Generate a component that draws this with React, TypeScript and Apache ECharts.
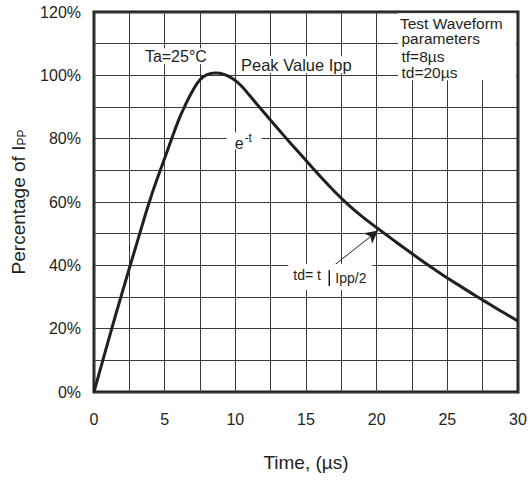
import React, { useEffect, useRef } from "react";
import * as echarts from "echarts";

// Time (µs) and percentage of Ipp
const times = [0, 1, 2, 3, 4, 5, 6, 6.5, 7, 7.5, 8, 8.6, 9.2, 9.8, 10.4, 11, 12, 13, 14, 15, 16, 17, 18, 19, 20, 21, 22, 23, 24, 25, 26, 27, 28, 29, 30];
const percents = [0, 16, 31.5, 46.5, 61.2, 73.8, 86, 91, 95.3, 98.6, 100.2, 100.7, 100.3, 99, 96.8, 93.7, 88.4, 83.2, 78.1, 73.1, 68.1, 63.4, 59.1, 55.3, 51.9, 48.6, 45.3, 42.1, 39.0, 36.0, 33.2, 30.4, 27.7, 25.0, 22.4];

const xTicks = [0, 5, 10, 15, 20, 25, 30];
const yTicks = [0, 20, 40, 60, 80, 100, 120];

// arrow (td marker) start/end in data coordinates
const arrowStart = [17.05, 40.2];
const arrowEnd = [20.1, 51.0];

const INK = "#231f20";
const FONT = "'Liberation Sans', Arial, Helvetica, sans-serif";

export default function App() {
  const ref = useRef<HTMLDivElement>(null);
  useEffect(() => {
    document.body.style.margin = "0";
    const chart = echarts.init(ref.current!, null, { renderer: "svg" });
    const data = times.map((t, i) => [t, percents[i]]);
    chart.setOption({
      animation: false,
      backgroundColor: "#fff",
      textStyle: { fontFamily: FONT },
      grid: {
        left: 94,
        right: 14,
        top: 12,
        bottom: 89,
        show: true,
        borderColor: INK,
        borderWidth: 3,
        backgroundColor: "transparent",
      },
      xAxis: {
        type: "value",
        min: 0,
        max: 30,
        interval: 2.5,
        name: "Time, (µs)",
        nameLocation: "middle",
        nameGap: 61,
        nameTextStyle: { fontSize: 19, color: INK, fontFamily: FONT },
        axisLine: { show: false },
        axisTick: { show: false },
        axisLabel: {
          margin: 19,
          fontSize: 16,
          color: INK,
          fontFamily: FONT,
          formatter: (v: number) => (xTicks.includes(v) ? String(v) : ""),
        },
        splitLine: { show: true, lineStyle: { color: "#3a3a3a", width: 1 } },
      },
      yAxis: {
        type: "value",
        min: 0,
        max: 120,
        interval: 10,
        name: "Percentage of I{sub|PP}",
        nameLocation: "middle",
        nameGap: 66,
        nameRotate: 90,
        nameTextStyle: {
          fontSize: 19,
          color: INK,
          fontFamily: FONT,
          rich: {
            sub: { fontSize: 12, color: INK, fontFamily: FONT, verticalAlign: "bottom" },
          },
        },
        axisLine: { show: false },
        axisTick: { show: false },
        axisLabel: {
          margin: 13,
          fontSize: 16,
          color: INK,
          fontFamily: FONT,
          formatter: (v: number) => (yTicks.includes(v) ? v + "%" : ""),
        },
        splitLine: { show: true, lineStyle: { color: "#3a3a3a", width: 1 } },
      },
      series: [
        {
          type: "line",
          data,
          smooth: 0.4,
          showSymbol: false,
          symbol: "none",
          lineStyle: { color: INK, width: 3 },
          z: 5,
          markLine: {
            silent: true,
            symbol: ["none", "arrow"],
            symbolSize: [10, 13],
            label: { show: false },
            lineStyle: { color: INK, width: 1, type: "solid" },
            emphasis: { disabled: true },
            data: [[{ coord: arrowStart }, { coord: arrowEnd }]],
          },
        },
      ],
    });

    const p = (t: number, v: number) => chart.convertToPixel({ gridIndex: 0 }, [t, v]) as number[];
    const box = (x1: number, y1: number, x2: number, y2: number) => ({
      type: "rect",
      z: 20,
      silent: true,
      shape: { x: x1, y: y1, width: x2 - x1, height: y2 - y1 },
      style: { fill: "#fff" },
    });
    const txt = (x: number, y: number, text: string, size: number) => ({
      type: "text",
      z: 30,
      silent: true,
      x,
      y,
      style: {
        text,
        fill: INK,
        font: `${size}px ${FONT}`,
        textAlign: "left",
        textVerticalAlign: "middle",
      },
    });

    const ta = p(3.6, 106);
    const peak = p(10.4, 103.2);
    const e = p(9.95, 78.5);
    const tw = p(21.65, 119);
    const td = p(14.1, 36.6);

    chart.setOption({
      graphic: {
        elements: [
          // Ta label
          box(ta[0] - 3, ta[1] - 8, ta[0] + 68, ta[1] + 8),
          txt(ta[0], ta[1], "Ta=25°C", 16),
          // Peak value label
          box(peak[0] - 3, peak[1] - 9, peak[0] + 117, peak[1] + 8),
          txt(peak[0], peak[1], "Peak Value Ipp", 16.5),
          // e^-t label
          box(e[0] - 8, e[1] - 11, e[0] + 27, e[1] + 6),
          txt(e[0], e[1], "e", 16),
          txt(e[0] + 10, e[1] - 5.5, "-t", 12),
          // Test waveform block
          box(tw[0] - 2, tw[1] - 2, tw[0] + 116, tw[1] + 65),
          txt(tw[0], tw[1] + 8, "Test Waveform", 15.5),
          txt(tw[0] + 1.5, tw[1] + 23.8, "parameters", 15.5),
          txt(tw[0] + 1.5, tw[1] + 41.5, "tf=8µs", 15.5),
          txt(tw[0] + 1.5, tw[1] + 57.2, "td=20µs", 15.5),
          // td label
          box(td[0] - 5, td[1] - 12, td[0] + 79, td[1] + 14),
          txt(td[0], td[1] - 1, "td= t", 14),
          {
            type: "line",
            z: 30,
            silent: true,
            shape: { x1: td[0] + 36, y1: td[1] - 6, x2: td[0] + 36, y2: td[1] + 10 },
            style: { stroke: INK, lineWidth: 1.5 },
          },
          txt(td[0] + 42, td[1] + 1.5, "Ipp/2", 14),
        ],
      },
    });

    return () => chart.dispose();
  }, []);
  return <div ref={ref} style={{ width: 532, height: 481 }} />;
}
